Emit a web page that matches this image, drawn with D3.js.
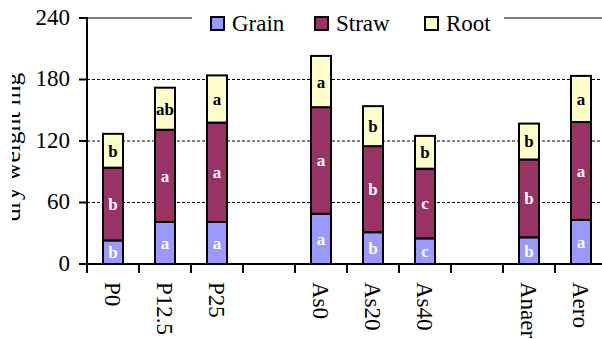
<!DOCTYPE html>
<html>
<head>
<meta charset="utf-8">
<script src="https://cdn.jsdelivr.net/npm/d3@7"></script>
</head>
<body style="margin:0; background:#fff">
<svg width="602" height="339"></svg>
<script>
//data//
var categories = ["P0", "P12.5", "P25", "gap1", "As0", "As20", "As40", "gap2", "Anaer", "Aero"];
var series = ["Grain", "Straw", "Root"];
var grain = [23, 41, 41, null, 49, 31, 25, null, 26, 43];
var straw = [71, 90, 97, null, 104, 84, 68, null, 76, 95.5];
var root  = [33, 41, 46, null, 50, 39, 32, null, 35, 45];
var grainLetters = ["b", "a", "a", "", "a", "b", "c", "", "b", "a"];
var strawLetters = ["b", "a", "a", "", "a", "b", "c", "", "b", "a"];
var rootLetters  = ["b", "ab", "a", "", "a", "b", "b", "", "b", "a"];
var yTicks = [0, 60, 120, 180, 240];

var colors = {Grain: "#9999ff", Straw: "#993366", Root: "#ffffcc"};
var textColors = {Grain: "#ffffff", Straw: "#ffffff", Root: "#000000"};

var plot = {left: 87, right: 607, top: 18, bottom: 264};
var serif = "Liberation Serif";

var svg = d3.select("svg");

var x = d3.scaleBand()
          .domain(categories)
          .range([plot.left, plot.right]);

var y = d3.scaleLinear()
          .domain([0, 240])
          .range([plot.bottom, plot.top]);

//stack rows//
var rows = categories.map(function(c, i)
           {
             return {cat: c, Grain: grain[i], Straw: straw[i], Root: root[i],
                     letters: {Grain: grainLetters[i], Straw: strawLetters[i], Root: rootLetters[i]}};
           }).filter(function(d) { return d.Grain != null; });

var stacked = d3.stack().keys(series)(rows);

//gridlines//
svg.append("g")
   .selectAll("line")
   .data(yTicks.filter(function(t) { return t > 0 && t < 240; }))
   .enter()
   .append("line")
   .attr("x1", plot.left)
   .attr("x2", 602)
   .attr("y1", function(d) { return y(d); })
   .attr("y2", function(d) { return y(d); })
   .style("stroke", "#000")
   .style("stroke-width", 1)
   .style("stroke-dasharray", "3,2");

//top border (grey)//
svg.append("line")
   .attr("x1", plot.left)
   .attr("x2", 602)
   .attr("y1", y(240))
   .attr("y2", y(240))
   .style("stroke", "#808080")
   .style("stroke-width", 2);

//bars//
stacked.forEach(function(layer)
{
  var g = svg.append("g").attr("class", layer.key);
  g.selectAll("rect")
   .data(layer)
   .enter()
   .append("rect")
   .attr("x", function(d) { return x(d.data.cat) + x.bandwidth() / 2 - 10; })
   .attr("width", 20)
   .attr("y", function(d) { return y(d[1]); })
   .attr("height", function(d) { return y(d[0]) - y(d[1]); })
   .style("fill", colors[layer.key])
   .style("stroke", "#000")
   .style("stroke-width", 2);

  g.selectAll("text")
   .data(layer)
   .enter()
   .append("text")
   .attr("x", function(d) { return x(d.data.cat) + x.bandwidth() / 2; })
   .attr("y", function(d) { return (y(d[0]) + y(d[1])) / 2; })
   .attr("dy", "0.35em")
   .attr("text-anchor", "middle")
   .attr("font-family", serif)
   .attr("font-size", 17)
   .attr("font-weight", "bold")
   .attr("fill", textColors[layer.key])
   .text(function(d) { return d.data.letters[layer.key]; });
});

//y axis//
svg.append("line")
   .attr("x1", plot.left).attr("x2", plot.left)
   .attr("y1", plot.top - 1).attr("y2", plot.bottom + 1)
   .style("stroke", "#000").style("stroke-width", 2);

var yt = svg.append("g").selectAll("g").data(yTicks).enter().append("g");
yt.append("line")
  .attr("x1", plot.left - 8).attr("x2", plot.left)
  .attr("y1", function(d) { return y(d); })
  .attr("y2", function(d) { return y(d); })
  .style("stroke", "#000").style("stroke-width", 2);
yt.append("text")
  .attr("x", 70)
  .attr("y", function(d) { return y(d); })
  .attr("dy", "0.3em")
  .attr("text-anchor", "end")
  .attr("font-family", serif)
  .attr("font-size", 23)
  .text(function(d) { return d; });

//y title, cut on the left like the original//
svg.append("clipPath").attr("id", "titleclip")
   .append("rect").attr("x", 12).attr("y", 0).attr("width", 40).attr("height", 339);
svg.append("g")
   .attr("clip-path", "url(#titleclip)")
   .append("text")
   .attr("transform", "translate(19.5,147) rotate(-90)")
   .attr("text-anchor", "middle")
   .attr("font-family", serif)
   .attr("font-size", 25.5)
   .text("dry weight mg");

//x axis//
svg.append("line")
   .attr("x1", plot.left - 1).attr("x2", 602)
   .attr("y1", plot.bottom).attr("y2", plot.bottom)
   .style("stroke", "#000").style("stroke-width", 2);

svg.append("g")
   .selectAll("line")
   .data(categories)
   .enter()
   .append("line")
   .attr("x1", function(d) { return x(d); })
   .attr("x2", function(d) { return x(d); })
   .attr("y1", plot.bottom)
   .attr("y2", plot.bottom + 9)
   .style("stroke", "#000").style("stroke-width", 2);

svg.append("g")
   .selectAll("text")
   .data(categories.filter(function(c) { return c.indexOf("gap") != 0; }))
   .enter()
   .append("text")
   .attr("transform", function(d) { return "translate(" + (x(d) + x.bandwidth() / 2) + ",282) rotate(90)"; })
   .attr("dy", "0.35em")
   .attr("font-family", serif)
   .attr("font-size", 23)
   .text(function(d) { return d; });

//legend//
var legend = svg.append("g");
legend.append("rect")
      .attr("x", 192).attr("y", 0).attr("width", 312).attr("height", 36)
      .style("fill", "#fff");

var legendX = {Grain: 211, Straw: 315, Root: 425};
var li = legend.selectAll("g.item").data(series).enter().append("g").attr("class", "item");
li.append("rect")
  .attr("x", function(d) { return legendX[d]; })
  .attr("y", 17)
  .attr("width", 13).attr("height", 13)
  .style("fill", function(d) { return colors[d]; })
  .style("stroke", "#000").style("stroke-width", 2);
li.append("text")
  .attr("x", function(d) { return legendX[d] + 21; })
  .attr("y", 31)
  .attr("font-family", serif)
  .attr("font-size", 23)
  .text(function(d) { return d; });
</script>
</body>
</html>
